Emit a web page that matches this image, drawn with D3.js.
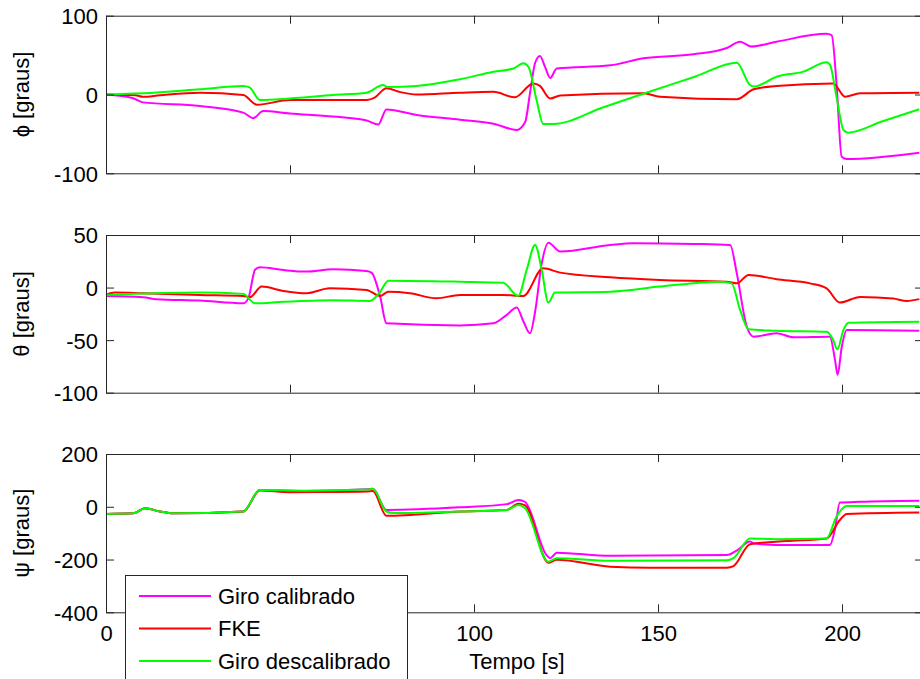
<!DOCTYPE html>
<html lang="en">
<head>
    <meta charset="UTF-8">
    <title>Giro calibrado vs FKE</title>
    <script src="https://d3js.org/d3.v7.min.js"></script>
    <style>
        body {
            margin: 0;
            background-color: #ffffff;
        }
        svg {
            display: block;
            font-family: "Liberation Sans", Arial, Helvetica, sans-serif;
        }
    </style>
</head>
<body>
<svg width="920" height="679"></svg>

<script>
    // x ticks (Tempo [s])
    const xTicks = [0, 50, 100, 150, 200];

    // Angulo phi [graus]
    const phiCal = [[0,0],[7.4,-4.8],[10,-10],[25.5,-14.6],[37.3,-23],[40,-30],[42.7,-21],[50,-24],[61.7,-28],[70.8,-33],[74,-38],[76.2,-19],[84.4,-26],[96.2,-32],[105.3,-37],[111.6,-45],[113.9,-35],[115.2,1.5],[116.6,40],[117.9,49],[119.3,35],[120.7,21],[122.5,33],[137,37],[146,46],[159.6,51],[168.7,59],[172.3,67],[175.4,61],[182.2,67],[195.8,77],[197.2,75],[198.5,14],[199.9,-79],[201.3,-82],[221,-74]];
    const phiFke = [[0,0],[8,-1],[10,-3],[14.7,-1],[25.5,2.3],[37.3,-0.6],[41,-13],[50,-7],[70.8,-7],[73,-4],[76.2,8],[80,3],[84.4,0],[96.2,2.3],[105.3,3.4],[111.1,-3.6],[116.1,14],[117.9,11],[120.7,-5],[123.4,-1.3],[146,1.5],[150.5,-2.8],[171.4,-6],[176,6.6],[182.2,10.8],[197.6,14],[200.8,-2.8],[204.9,1.5],[221,2.3]];
    const phiDes = [[0,0],[10,1.5],[25.5,6.6],[37.3,10.8],[39,9],[41.8,-7],[50,-5],[61.7,-0.6],[70.8,2.3],[75.3,12],[76.5,9.5],[84.4,10.8],[96.2,19.3],[105.3,29],[110.7,33],[113.4,39.6],[114.8,35],[117,-7],[118.8,-37.4],[121.6,-37.4],[135,-16.5],[146,1],[160,22.6],[171.4,40.4],[175,12],[176,10],[182.2,22.6],[189.5,29],[195.8,40.8],[196.7,38],[198.5,-3],[200.4,-45],[201.7,-48.4],[211,-34],[221,-18.8]];

    // Angulo theta [graus]
    const thetaCal = [[0,-8],[10.1,-9.2],[13.7,-11],[25.5,-12.4],[37.3,-15],[38.7,-10],[40.5,17],[41.8,19.3],[48.2,16.7],[54.3,15.2],[61.7,17.4],[70.8,15.8],[72.2,14],[74.5,-8.7],[76.2,-34],[96.2,-36],[105.3,-34],[108.9,-26],[111.6,-19],[113.4,-32],[115.2,-43.5],[116.6,-23],[118.4,23],[120.2,42.7],[123.4,34.2],[137,40.5],[143.3,42.2],[159.6,41.5],[169.6,40.5],[171.4,13.6],[174.1,-37],[176,-46.7],[182.2,-43.5],[186.8,-47.3],[196.7,-46.7],[198.1,-69],[198.8,-83],[199.9,-57],[201.3,-40.3],[221,-41]];
    const thetaFke = [[0,-7],[2.4,-4.8],[10.1,-5.4],[25.5,-7],[37.3,-8],[39.1,-9.2],[42.3,0.9],[48.2,-3.2],[54.5,-5.4],[60.8,-0.7],[70.8,-2.2],[74.5,-8],[76.7,-4],[82.6,-5.4],[89.8,-10.2],[96.2,-7],[107.9,-7],[113.4,-8],[118.8,18.4],[123.4,14.2],[137,9.8],[150.5,7.3],[168.7,5.6],[171.4,4],[174.6,12],[182.2,8],[191.3,4],[195.8,-0.7],[199.4,-14.3],[204.9,-8.9],[213.9,-10.5],[217.6,-12.7],[221,-11]];
    const thetaDes = [[0,-7],[25.5,-4.8],[37.3,-6],[40.5,-15],[48.2,-13.5],[61.7,-12],[71.7,-12.7],[74.5,-4],[76.7,6.6],[96.2,5.6],[107.9,4.6],[112,-8],[114.3,16.7],[116.6,40.5],[118.4,16.7],[120.2,-14.3],[122,-4.8],[137,-3.9],[150.5,0.9],[166.8,5.6],[170,4],[172.3,-21.3],[174.6,-39.7],[182.2,-41],[195.8,-42],[197.6,-49.8],[198.7,-58.7],[200.4,-40.3],[201.7,-33.4],[221,-32.4]];

    // Angulo psi [graus]
    const psiCal = [[0,-27],[7.4,-25],[10.6,-6],[14.7,-18],[18.2,-25],[37.3,-18],[41.8,64],[54.3,60],[70.8,66],[72.5,68],[76.2,-12],[96.2,-2],[108.9,10],[112.1,26],[113.9,18],[119.7,-183],[120.7,-195],[122.5,-174],[137,-186],[168.7,-183],[171.4,-166],[175,-132],[176,-138],[182.2,-145],[196.7,-145],[198.1,-83],[199.4,16],[204.9,19],[221,23]];
    const psiFke = [[0,-27],[7.4,-25],[10.6,-6],[14.7,-18],[18.2,-25],[37.3,-18],[41.8,62],[50,55],[60,56],[70.8,58],[72.5,60],[76.2,-34],[96.2,-18],[108.9,-12],[112.1,11],[113.9,5],[120.2,-212],[122.5,-201],[137,-227],[147.8,-231],[168.7,-231],[170.5,-225],[175,-142],[184.9,-130],[195.8,-120],[199.4,-50],[201.3,-27],[221,-22]];
    const psiDes = [[0,-27],[7.4,-25],[10.6,-6],[14.7,-18],[18.2,-25],[37.3,-18],[41.8,64],[54.3,61],[70.8,65],[72.5,68],[76.2,-18],[78,-24],[96.2,-18],[108.9,-12],[112.1,7],[113.9,-6],[120.2,-208],[122.5,-195],[137,-205],[168.7,-203],[170.5,-195],[175,-120],[182.2,-123],[195.8,-120],[198.5,-37],[201.3,3],[221,3]];

    const seriesNames = ["Giro calibrado", "FKE", "Giro descalibrado"];
    const seriesColors = ["#ff00ff", "#ff0000", "#00ff00"];

    const panels = [
        {label: "\u03d5 [graus]", top: 15.7, bottom: 173.3, domain: [-100, 100], ticks: [-100, 0, 100], data: [phiCal, phiFke, phiDes]},
        {label: "\u03b8 [graus]", top: 235, bottom: 392.7, domain: [-100, 50], ticks: [-100, -50, 0, 50], data: [thetaCal, thetaFke, thetaDes]},
        {label: "\u03c8 [graus]", top: 454, bottom: 612.3, domain: [-400, 200], ticks: [-400, -200, 0, 200], data: [psiCal, psiFke, psiDes]}
    ];

    const left = 106, right = 923;
    const tickLen = 8;
    const axisColor = "#262626";
    const plainNum = d => String(d);   // keep "-" hyphen like the original

    const svg = d3.select("svg");
    svg.append("rect").attr("width", 920).attr("height", 679).attr("fill", "#fff");

    const xScale = d3.scaleLinear()
        .domain([0, 222])
        .range([left, right]);

    panels.forEach((p, pi) => {
        const yScale = d3.scaleLinear()
            .domain(p.domain)
            .range([p.bottom, p.top]);

        const g = svg.append("g");

        // curves
        const line = d3.line()
            .x(d => xScale(d[0]))
            .y(d => yScale(d[1]))
            .curve(d3.curveMonotoneX);

        p.data.forEach((series, i) => {
            g.append("path")
                .datum(series)
                .attr("fill", "none")
                .attr("stroke", seriesColors[i])
                .attr("stroke-width", 2)
                .attr("stroke-linejoin", "round")
                .attr("d", line);
        });

        // box axes, ticks on all sides pointing in
        g.append("g")
            .attr("transform", `translate(0,${p.bottom})`)
            .call(d3.axisBottom(xScale).tickValues(xTicks).tickSizeInner(-tickLen).tickSizeOuter(0)
                .tickFormat(pi === 2 ? plainNum : () => ""))
            .call(a => a.select(".domain").attr("stroke", axisColor))
            .call(a => a.selectAll("line").attr("stroke", axisColor))
            .call(a => a.selectAll("text").attr("font-size", 22).attr("fill", "#000").attr("y", 13));

        g.append("g")
            .attr("transform", `translate(0,${p.top})`)
            .call(d3.axisTop(xScale).tickValues(xTicks).tickSizeInner(-tickLen).tickSizeOuter(0).tickFormat(() => ""))
            .call(a => a.select(".domain").attr("stroke", axisColor))
            .call(a => a.selectAll("line").attr("stroke", axisColor));

        g.append("g")
            .attr("transform", `translate(${left},0)`)
            .call(d3.axisLeft(yScale).tickValues(p.ticks).tickSizeInner(-tickLen).tickSizeOuter(0).tickFormat(plainNum))
            .call(a => a.select(".domain").attr("stroke", axisColor))
            .call(a => a.selectAll("line").attr("stroke", axisColor))
            .call(a => a.selectAll("text").attr("font-size", 22).attr("fill", "#000").attr("x", -8).attr("dy", "0.36em"));

        g.append("g")
            .attr("transform", `translate(${right},0)`)
            .call(d3.axisRight(yScale).tickValues(p.ticks).tickSizeInner(-tickLen).tickSizeOuter(0).tickFormat(() => ""))
            .call(a => a.select(".domain").attr("stroke", axisColor))
            .call(a => a.selectAll("line").attr("stroke", axisColor));

        // y label
        svg.append("text")
            .attr("transform", `translate(29,${(p.top + p.bottom) / 2}) rotate(-90)`)
            .attr("text-anchor", "middle")
            .attr("font-size", 22)
            .attr("fill", "#000")
            .text(p.label);
    });

    svg.append("text")
        .attr("x", 517)
        .attr("y", 669)
        .attr("text-anchor", "middle")
        .attr("font-size", 22)
        .attr("fill", "#000")
        .text("Tempo [s]");

    // legend
    const legend = svg.append("g").attr("transform", "translate(125,575)");
    legend.append("rect")
        .attr("x", 0.5).attr("y", 0.5)
        .attr("width", 282).attr("height", 130)
        .attr("fill", "#fff")
        .attr("stroke", axisColor);

    seriesNames.forEach((name, i) => {
        const y = 21 + i * 32.5;
        legend.append("line")
            .attr("x1", 14).attr("x2", 86)
            .attr("y1", y).attr("y2", y)
            .attr("stroke", seriesColors[i])
            .attr("stroke-width", 2);
        legend.append("text")
            .attr("x", 93).attr("y", y)
            .attr("dy", "0.36em")
            .attr("font-size", 22)
            .attr("fill", "#000")
            .text(name);
    });
</script>
</body>
</html>
